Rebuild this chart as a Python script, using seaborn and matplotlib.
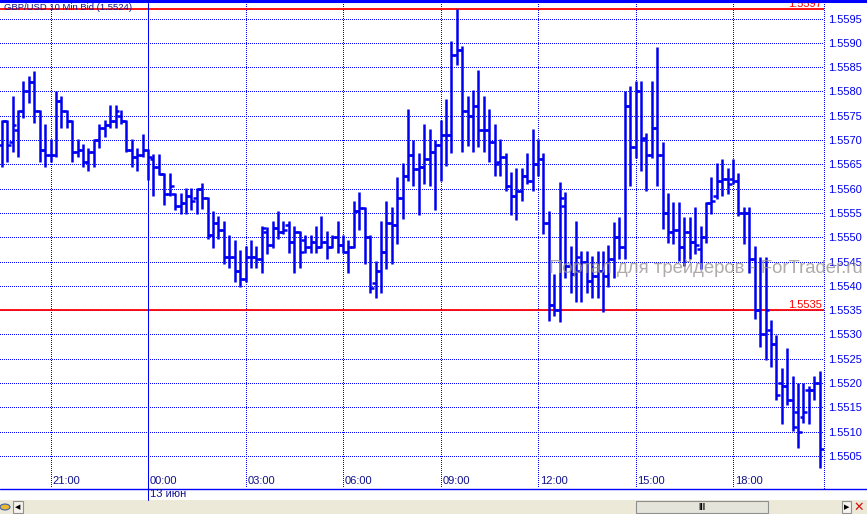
import numpy as np
import pandas as pd
import matplotlib
matplotlib.use("Agg")
import matplotlib.pyplot as plt
import matplotlib.transforms as mtransforms
from matplotlib.lines import Line2D
from matplotlib.patches import Rectangle, Circle
import seaborn as sns

# GBP/USD 10 min bars (bid prices)
highs = [
    1.55742, 1.55742, 1.55791, 1.55762, 1.55821, 1.55831, 1.55841, 1.55762, 1.55732, 1.55703,
    1.55800, 1.55791, 1.55762, 1.55742, 1.55703, 1.55692, 1.55684, 1.55703, 1.55732, 1.55742,
    1.55773, 1.55773, 1.55762, 1.55742, 1.55703, 1.55684, 1.55713, 1.55682, 1.55672, 1.55672,
    1.55632, 1.55632, 1.55591, 1.55591, 1.55601, 1.55601, 1.55602, 1.55612, 1.55582, 1.55553,
    1.55544, 1.55534, 1.55504, 1.55495, 1.55474, 1.55482, 1.55495, 1.55482, 1.55523, 1.55522,
    1.55534, 1.55554, 1.55534, 1.55534, 1.55523, 1.55513, 1.55504, 1.55504, 1.55523, 1.55544,
    1.55513, 1.55504, 1.55534, 1.55504, 1.55495, 1.55575, 1.55593, 1.55563, 1.55504, 1.55451,
    1.55534, 1.55575, 1.55563, 1.55623, 1.55653, 1.55763, 1.55701, 1.55674, 1.55732, 1.55722,
    1.55701, 1.55742, 1.55784, 1.55903, 1.55970, 1.55893, 1.55790, 1.55803, 1.55844, 1.55790,
    1.55763, 1.55732, 1.55703, 1.55673, 1.55634, 1.55643, 1.55643, 1.55673, 1.55722, 1.55703,
    1.55673, 1.55554, 1.55424, 1.55614, 1.55593, 1.55482, 1.55534, 1.55472, 1.55472, 1.55462,
    1.55472, 1.55472, 1.55484, 1.55532, 1.55542, 1.55801, 1.55811, 1.55821, 1.55821, 1.55714,
    1.55821, 1.55892, 1.55695, 1.55592, 1.55573, 1.55573, 1.55542, 1.55542, 1.55563, 1.55523,
    1.55573, 1.55623, 1.55652, 1.55662, 1.55643, 1.55662, 1.55633, 1.55563, 1.55563, 1.55482,
    1.55460, 1.55460, 1.55330, 1.55299, 1.55231, 1.55272, 1.55214, 1.55200, 1.55200, 1.55193,
    1.55214, 1.55224,
]
lows = [
    1.55645, 1.55655, 1.55675, 1.55665, 1.55745, 1.55776, 1.55735, 1.55655, 1.55645, 1.55655,
    1.55665, 1.55725, 1.55725, 1.55655, 1.55665, 1.55645, 1.55636, 1.55645, 1.55684, 1.55706,
    1.55725, 1.55725, 1.55734, 1.55675, 1.55645, 1.55636, 1.55665, 1.55617, 1.55584, 1.55629,
    1.55567, 1.55584, 1.55557, 1.55547, 1.55547, 1.55557, 1.55547, 1.55558, 1.55497, 1.55477,
    1.55497, 1.55445, 1.55436, 1.55407, 1.55397, 1.55407, 1.55436, 1.55436, 1.55427, 1.55465,
    1.55477, 1.55497, 1.55506, 1.55467, 1.55427, 1.55436, 1.55467, 1.55467, 1.55467, 1.55477,
    1.55456, 1.55477, 1.55467, 1.55467, 1.55427, 1.55477, 1.55515, 1.55445, 1.55386, 1.55376,
    1.55386, 1.55434, 1.55445, 1.55486, 1.55537, 1.55616, 1.55605, 1.55545, 1.55609, 1.55605,
    1.55556, 1.55616, 1.55647, 1.55674, 1.55855, 1.55675, 1.55688, 1.55675, 1.55686, 1.55675,
    1.55655, 1.55626, 1.55627, 1.55595, 1.55545, 1.55536, 1.55575, 1.55609, 1.55595, 1.55627,
    1.55506, 1.55328, 1.55337, 1.55326, 1.55417, 1.55386, 1.55366, 1.55366, 1.55386, 1.55376,
    1.55376, 1.55347, 1.55397, 1.55417, 1.55455, 1.55455, 1.55605, 1.55664, 1.55636, 1.55595,
    1.55664, 1.55605, 1.55516, 1.55489, 1.55486, 1.55451, 1.55441, 1.55455, 1.55465, 1.55434,
    1.55489, 1.55547, 1.55578, 1.55584, 1.55588, 1.55609, 1.55544, 1.55486, 1.55427, 1.55332,
    1.55275, 1.55248, 1.55234, 1.55166, 1.55116, 1.55155, 1.55101, 1.55066, 1.55118, 1.55116,
    1.55166, 1.55025,
]
opens = [
    1.55690, 1.55740, 1.55695, 1.55720, 1.55760, 1.55800, 1.55820, 1.55760, 1.55680, 1.55670,
    1.55670, 1.55780, 1.55760, 1.55740, 1.55675, 1.55680, 1.55655, 1.55675, 1.55700, 1.55725,
    1.55730, 1.55740, 1.55750, 1.55740, 1.55680, 1.55665, 1.55670, 1.55680, 1.55660, 1.55645,
    1.55630, 1.55590, 1.55590, 1.55565, 1.55570, 1.55585, 1.55580, 1.55600, 1.55580, 1.55505,
    1.55530, 1.55515, 1.55460, 1.55460, 1.55430, 1.55415, 1.55460, 1.55460, 1.55455, 1.55510,
    1.55485, 1.55520, 1.55510, 1.55525, 1.55490, 1.55510, 1.55495, 1.55480, 1.55490, 1.55480,
    1.55490, 1.55480, 1.55500, 1.55485, 1.55470, 1.55480, 1.55555, 1.55560, 1.55500, 1.55405,
    1.55430, 1.55470, 1.55530, 1.55525, 1.55580, 1.55625, 1.55670, 1.55640, 1.55645, 1.55660,
    1.55675, 1.55690, 1.55710, 1.55710, 1.55875, 1.55885, 1.55760, 1.55750, 1.55770, 1.55720,
    1.55720, 1.55695, 1.55655, 1.55665, 1.55605, 1.55585, 1.55595, 1.55625, 1.55615, 1.55650,
    1.55660, 1.55530, 1.55360, 1.55350, 1.55565, 1.55440, 1.55425, 1.55430, 1.55450, 1.55410,
    1.55420, 1.55430, 1.55420, 1.55455, 1.55500, 1.55480, 1.55770, 1.55685, 1.55800, 1.55705,
    1.55670, 1.55725, 1.55670, 1.55550, 1.55510, 1.55515, 1.55480, 1.55510, 1.55490, 1.55475,
    1.55500, 1.55570, 1.55585, 1.55615, 1.55620, 1.55620, 1.55615, 1.55550, 1.55550, 1.55455,
    1.55350, 1.55300, 1.55310, 1.55280, 1.55200, 1.55195, 1.55165, 1.55140, 1.55130, 1.55185,
    1.55185, 1.55200,
]
closes = [
    1.55740, 1.55690, 1.55730, 1.55760, 1.55800, 1.55820, 1.55760, 1.55680, 1.55670, 1.55670,
    1.55780, 1.55760, 1.55740, 1.55675, 1.55680, 1.55655, 1.55675, 1.55700, 1.55725, 1.55730,
    1.55740, 1.55760, 1.55740, 1.55680, 1.55665, 1.55670, 1.55680, 1.55665, 1.55645, 1.55630,
    1.55590, 1.55605, 1.55565, 1.55570, 1.55585, 1.55575, 1.55600, 1.55580, 1.55505, 1.55530,
    1.55515, 1.55460, 1.55460, 1.55430, 1.55415, 1.55460, 1.55460, 1.55455, 1.55520, 1.55485,
    1.55520, 1.55510, 1.55515, 1.55490, 1.55510, 1.55470, 1.55480, 1.55490, 1.55480, 1.55490,
    1.55480, 1.55500, 1.55485, 1.55470, 1.55480, 1.55555, 1.55560, 1.55500, 1.55395, 1.55430,
    1.55470, 1.55530, 1.55525, 1.55580, 1.55625, 1.55670, 1.55640, 1.55645, 1.55660, 1.55675,
    1.55690, 1.55710, 1.55710, 1.55875, 1.55885, 1.55760, 1.55750, 1.55770, 1.55720, 1.55720,
    1.55695, 1.55650, 1.55665, 1.55605, 1.55585, 1.55595, 1.55625, 1.55615, 1.55650, 1.55660,
    1.55530, 1.55360, 1.55350, 1.55580, 1.55440, 1.55425, 1.55460, 1.55450, 1.55410, 1.55420,
    1.55430, 1.55420, 1.55455, 1.55500, 1.55480, 1.55770, 1.55685, 1.55800, 1.55700, 1.55670,
    1.55725, 1.55670, 1.55550, 1.55510, 1.55515, 1.55480, 1.55510, 1.55490, 1.55485, 1.55500,
    1.55570, 1.55575, 1.55615, 1.55620, 1.55610, 1.55615, 1.55550, 1.55550, 1.55455, 1.55350,
    1.55300, 1.55350, 1.55280, 1.55175, 1.55195, 1.55165, 1.55110, 1.55100, 1.55140, 1.55185,
    1.55200, 1.55065,
]
first_bar = "2012-06-12 19:30"
red_levels = [1.5597, 1.5535]
price_levels = [1.5505, 1.5510, 1.5515, 1.5520, 1.5525, 1.5530, 1.5535, 1.5540, 1.5545,
                1.5550, 1.5555, 1.5560, 1.5565, 1.5570, 1.5575, 1.5580, 1.5585, 1.5590, 1.5595]
title = "GBP/USD 10 Min Bid (1.5524)"
watermark = "Портал для трейдеров - ForTrader.ru"
day_label = "13 июн"

df = pd.DataFrame({"open": opens, "high": highs, "low": lows, "close": closes})
df["time"] = pd.date_range(first_bar, periods=len(df), freq="10min")
df["bar"] = np.arange(len(df))

sns.set_style("white")
plt.rcParams["font.family"] = ["Liberation Sans", "DejaVu Sans"]

BLUE = "#0000F0"
GRID = "#0000FF"
NAVY = "#10108C"
RED = "#FF0000"

W, H = 867, 514
fig = plt.figure(figsize=(W / 100, H / 100), dpi=100)
fig.patch.set_facecolor("white")
ax = fig.add_axes([0, 1 - 488 / H, 824 / W, 485 / H])
ax.set_facecolor("white")
for s in ax.spines.values():
    s.set_visible(False)

step = 5.417  # px per bar
ax.set_xlim(-1.75 / step, (824 - 1.75) / step)
ax.set_ylim(1.549842, 1.559819)

# grid, crisp 1px dots
x0, x1 = ax.get_xlim()
dots = (0, (1, 2))
ax.hlines(price_levels, x0, x1, colors=GRID, linewidth=0.72,
          linestyles=dots, zorder=1, antialiased=False)
hours = df[(df.time.dt.minute == 0) & (df.time.dt.hour % 3 == 0)]
for _, r in hours.iterrows():
    if r.time.hour == 0:
        continue
    ax.axvline(r.bar, color=GRID, linewidth=0.72, linestyle=dots, zorder=1,
               antialiased=False)
ax.axvline(x1 - 0.05, color=GRID, linewidth=0.72, linestyle=dots, zorder=1,
           clip_on=False, antialiased=False)

# day separator, runs down into the date strip
midnight = hours[hours.time.dt.hour == 0].bar.iloc[0]
trans_xfig = mtransforms.blended_transform_factory(ax.transData, fig.transFigure)
fig.add_artist(Line2D([midnight, midnight], [1 - 500 / H, 1 - 3 / H],
                      transform=trans_xfig, color=GRID, linewidth=0.75))

# red levels
for lv in red_levels:
    ax.axhline(lv, color=RED, linewidth=1.3, zorder=3)
    ax.text(x1 - 0.35, lv, f"{lv:.4f}", color=RED, fontsize=8, ha="right",
            va="bottom", zorder=3)

# OHLC bars
ax.vlines(df.bar, df.low, df.high, color=BLUE, linewidth=1.8, zorder=4)
ax.hlines(df.open, df.bar - 0.72, df.bar, color=BLUE, linewidth=1.8, zorder=4)
ax.hlines(df.close, df.bar, df.bar + 0.72, color=BLUE, linewidth=1.8, zorder=4)

# semi-transparent watermark over the bars
ax.text(549 / 824, 1 - (268 - 3) / 485, watermark, transform=ax.transAxes,
        fontsize=13.3, color="#9C9494", alpha=0.8, va="center", ha="left",
        zorder=5, clip_on=False)

# right price scale
ax.yaxis.tick_right()
ax.set_yticks(price_levels)
ax.set_yticklabels([f"{v:.4f}" for v in price_levels])
ax.tick_params(axis="y", length=0, pad=3, labelsize=8, labelcolor=BLUE)
ax.set_xticks([])

# time labels inside the bottom of the plot
trans_xax = mtransforms.blended_transform_factory(ax.transData, ax.transAxes)
for _, r in hours.iterrows():
    ax.text(r.bar + 0.3, 7 / 485, r.time.strftime("%H:%M"), transform=trans_xax,
            fontsize=8, color=NAVY, ha="left", va="center")
fig.text(0, 0, day_label, transform=trans_xfig, fontsize=8, color=NAVY,
         ha="left", va="center").set_position((midnight + 0.3, 1 - 494 / H))

ax.text(4 / 824, 1 - 4.5 / 485, title, transform=ax.transAxes, fontsize=6.8,
        color=NAVY, ha="left", va="center", zorder=6)

# frame lines
fig.add_artist(Line2D([0, 1], [1 - 1 / H, 1 - 1 / H], transform=fig.transFigure,
                      color=GRID, linewidth=2.2))
fig.add_artist(Line2D([0, 1], [1 - 488.5 / H, 1 - 488.5 / H], transform=fig.transFigure,
                      color=GRID, linewidth=1.0))

# scroll bar strip
fig.add_artist(Rectangle((0, 0), 1, 14 / H, transform=fig.transFigure,
                         facecolor="#ECE9D8", edgecolor="none"))
fig.add_artist(Rectangle((636 / W, 1 / H), 132 / W, 12 / H, transform=fig.transFigure,
                         facecolor="#E4E4DA", edgecolor="#8E8E8E", linewidth=0.8))
fig.text(702 / W, 7 / H, "|||", fontsize=6, color="black", ha="center", va="center",
         fontweight="bold")
fig.add_artist(Rectangle((13 / W, 1 / H), 10 / W, 12 / H, transform=fig.transFigure,
                         facecolor="#F4F3EE", edgecolor="#8E8E8E", linewidth=0.8))
fig.text(18 / W, 7 / H, "◀", fontsize=5, color="black", ha="center", va="center",
         family="DejaVu Sans")
fig.add_artist(Rectangle((842 / W, 1 / H), 9 / W, 12 / H, transform=fig.transFigure,
                         facecolor="#F4F3EE", edgecolor="#8E8E8E", linewidth=0.8))
fig.text(846.5 / W, 7 / H, "▶", fontsize=5, color="black", ha="center", va="center",
         family="DejaVu Sans")
fig.text(859 / W, 7 / H, "✕", fontsize=9, color="#D01010", ha="center", va="center",
         family="DejaVu Sans", fontweight="bold")
fig.add_artist(Circle((5 / W, 7 / H), 5 / W, transform=fig.transFigure,
                      facecolor="#E8B830", edgecolor="#4060B0", linewidth=0.8))

fig.savefig("out.png", dpi=100)
